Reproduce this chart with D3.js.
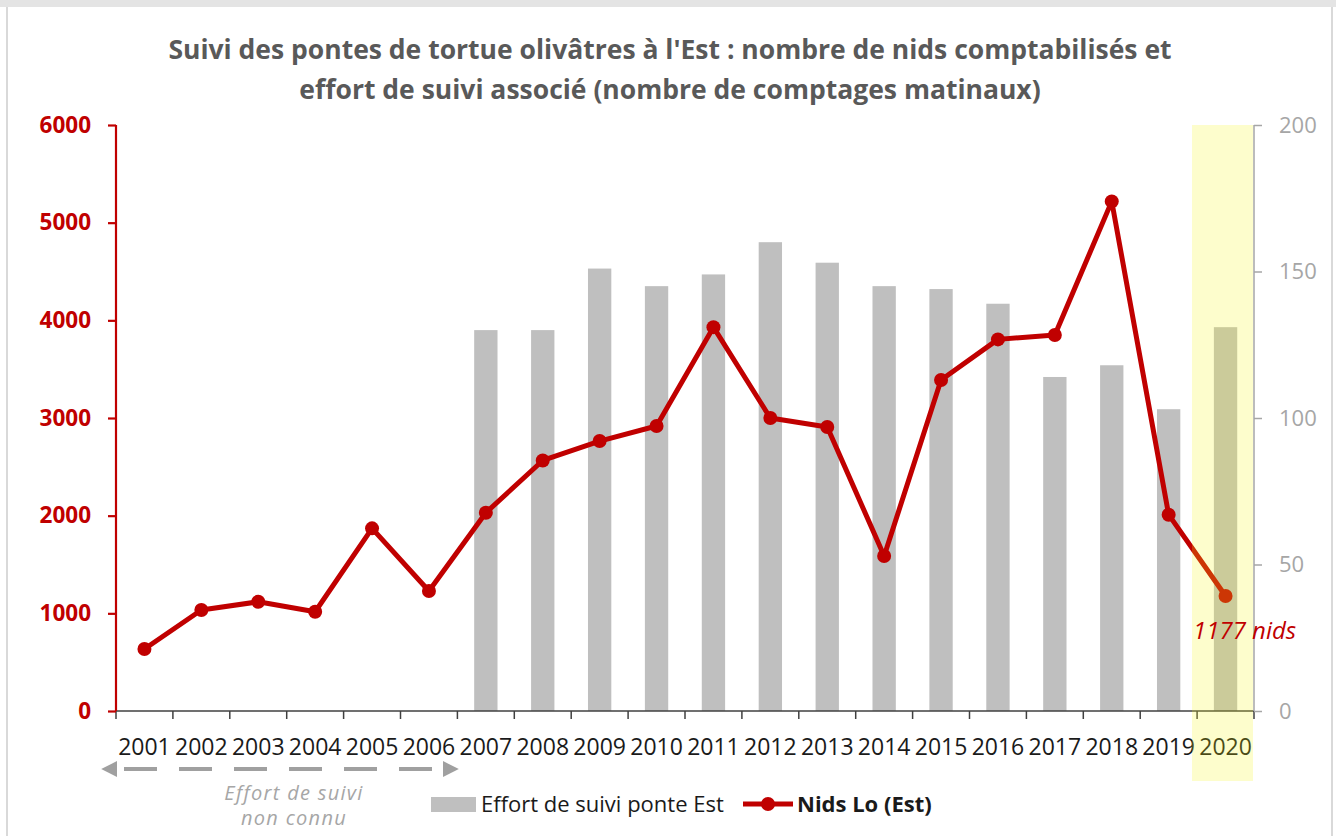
<!DOCTYPE html>
<html>
<head>
<meta charset="utf-8">
<script src="https://cdn.jsdelivr.net/npm/d3@7"></script>
<style>
  body { margin: 0; background: #fff; }
  text { font-family: "Open Sans", "Noto Sans", sans-serif; }
</style>
</head>
<body>
<script>
var width = 1336;
var height = 836;

// data
var years = ['2001','2002','2003','2004','2005','2006','2007','2008','2009','2010',
             '2011','2012','2013','2014','2015','2016','2017','2018','2019','2020'];
var nids = [635, 1034, 1118, 1016, 1870, 1229, 2030, 2565, 2764, 2918,
            3930, 3000, 2908, 1587, 3389, 3805, 3850, 5218, 2010, 1177];
var effort = [null, null, null, null, null, null, 130, 130, 151, 145,
              149, 160, 153, 145, 144, 139, 114, 118, 103, 131];
var leftTicks = [0, 1000, 2000, 3000, 4000, 5000, 6000];
var rightTicks = [0, 50, 100, 150, 200];
var titleLines = ["Suivi des pontes de tortue olivâtres à l'Est : nombre de nids comptabilisés et",
                  "effort de suivi associé (nombre de comptages matinaux)"];

var red = '#c00000';

var svg = d3.select('body')
    .append('svg')
    .attr('width', width)
    .attr('height', height);

// frame like the screenshot
svg.append('rect').attr('x', 0).attr('y', 0).attr('width', width).attr('height', 7).attr('fill', '#e4e4e4');
svg.append('line').attr('x1', 7).attr('x2', 7).attr('y1', 7).attr('y2', height).attr('stroke', '#d9d9d9').attr('stroke-width', 2);
svg.append('line').attr('x1', 1332).attr('x2', 1332).attr('y1', 7).attr('y2', height).attr('stroke', '#d9d9d9').attr('stroke-width', 2);

var xScale = d3.scaleBand().domain(years).range([116, 1254]);
var yLeft = d3.scaleLinear().domain([0, 6000]).range([711, 125]);
var yRight = d3.scaleLinear().domain([0, 200]).range([711, 125]);

// title
svg.selectAll('.title')
    .data(titleLines)
    .enter()
    .append('text')
    .attr('x', 670)
    .attr('y', function (d, i) { return 59 + i * 40; })
    .attr('text-anchor', 'middle')
    .attr('font-size', 26.5)
    .attr('font-weight', 'bold')
    .attr('fill', '#595959')
    .text(function (d) { return d; });

// bars (right axis)
var barW = xScale.bandwidth() * 0.41;
svg.selectAll('rect.bar')
    .data(years.map(function (y, i) { return { year: y, v: effort[i] }; })
        .filter(function (d) { return d.v !== null; }))
    .enter()
    .append('rect')
    .attr('class', 'bar')
    .attr('x', function (d) { return xScale(d.year) + (xScale.bandwidth() - barW) / 2; })
    .attr('y', function (d) { return yRight(d.v); })
    .attr('width', barW)
    .attr('height', function (d) { return yRight(0) - yRight(d.v); })
    .attr('fill', '#bfbfbf');

// x axis
svg.append('line')
    .attr('x1', 116).attr('x2', 1254)
    .attr('y1', 711).attr('y2', 711)
    .attr('stroke', '#404040').attr('stroke-width', 1.5);

svg.selectAll('line.xtick')
    .data(years.concat(['end']))
    .enter()
    .append('line')
    .attr('class', 'xtick')
    .attr('x1', function (d) { return d === 'end' ? 1254 : xScale(d); })
    .attr('x2', function (d) { return d === 'end' ? 1254 : xScale(d); })
    .attr('y1', 711).attr('y2', 719)
    .attr('stroke', '#404040').attr('stroke-width', 1.5);

svg.selectAll('text.xlab')
    .data(years)
    .enter()
    .append('text')
    .attr('class', 'xlab')
    .attr('x', function (d) { return xScale(d) + xScale.bandwidth() / 2; })
    .attr('y', 755)
    .attr('text-anchor', 'middle')
    .attr('font-size', 23)
    .attr('fill', '#1a1a1a')
    .text(function (d) { return d; });

// left axis
var leftAxis = svg.append('g')
    .attr('transform', 'translate(116,0)')
    .call(d3.axisLeft(yLeft).tickValues(leftTicks).tickSize(8).tickPadding(17).tickFormat(d3.format('d')));
leftAxis.select('.domain').attr('stroke', red).attr('stroke-width', 2.2).attr('d', 'M0,125V711');
leftAxis.selectAll('.tick line').attr('stroke', red).attr('stroke-width', 2.2);
leftAxis.selectAll('.tick text')
    .attr('fill', red)
    .attr('font-size', 22.5)
    .attr('font-weight', 'bold')
    .attr('font-family', '"Open Sans", sans-serif');

// right axis
var rightAxis = svg.append('g')
    .attr('transform', 'translate(1254,0)')
    .call(d3.axisRight(yRight).tickValues(rightTicks).tickSize(8).tickPadding(17));
rightAxis.select('.domain').attr('stroke', '#a6a6a6').attr('stroke-width', 1.5).attr('d', 'M0,125V711');
rightAxis.selectAll('.tick line').attr('stroke', '#a6a6a6').attr('stroke-width', 1.5);
rightAxis.selectAll('.tick text')
    .attr('fill', '#a6a6a6')
    .attr('font-size', 22)
    .attr('font-family', '"Open Sans", sans-serif');

// nids line
var cx = function (d, i) { return xScale(years[i]) + xScale.bandwidth() / 2; };
var line = d3.line()
    .x(function (d, i) { return cx(d, i); })
    .y(function (d) { return yLeft(d); });

svg.append('path')
    .datum(nids)
    .attr('d', line)
    .attr('fill', 'none')
    .attr('stroke', red)
    .attr('stroke-width', 5)
    .attr('stroke-linejoin', 'round');

svg.selectAll('circle.pt')
    .data(nids)
    .enter()
    .append('circle')
    .attr('class', 'pt')
    .attr('cx', cx)
    .attr('cy', function (d) { return yLeft(d); })
    .attr('r', 7)
    .attr('fill', red);

// yellow highlight on 2020
svg.append('rect')
    .attr('x', 1192)
    .attr('y', 125)
    .attr('width', 61)
    .attr('height', 656)
    .attr('fill', '#f5f519')
    .attr('opacity', 0.22);

svg.append('text')
    .attr('x', 1193)
    .attr('y', 639)
    .attr('font-size', 24)
    .attr('font-style', 'italic')
    .attr('fill', red)
    .text(nids[nids.length - 1] + ' nids');

// dashed arrow: effort unknown 2001-2006
var defs = svg.append('defs');
defs.append('marker')
    .attr('id', 'arr')
    .attr('viewBox', '0 0 10 10')
    .attr('refX', 2).attr('refY', 5)
    .attr('markerWidth', 4).attr('markerHeight', 4)
    .attr('orient', 'auto-start-reverse')
    .append('path')
    .attr('d', 'M0,0L10,5L0,10Z')
    .attr('fill', '#a0a0a0');

svg.append('line')
    .attr('x1', 114).attr('x2', 446)
    .attr('y1', 769).attr('y2', 769)
    .attr('stroke', '#a0a0a0')
    .attr('stroke-width', 4)
    .attr('stroke-dasharray', '0,10,33,12')
    .attr('marker-start', 'url(#arr)')
    .attr('marker-end', 'url(#arr)');

svg.selectAll('text.note')
    .data(['Effort de suivi', 'non connu'])
    .enter()
    .append('text')
    .attr('x', 294)
    .attr('y', function (d, i) { return 800 + i * 25; })
    .attr('text-anchor', 'middle')
    .attr('font-size', 20)
    .attr('letter-spacing', 1.3)
    .attr('font-style', 'italic')
    .attr('fill', '#a6a6a6')
    .text(function (d) { return d; });

// legend
var legend = svg.append('g');
legend.append('rect')
    .attr('x', 431).attr('y', 797)
    .attr('width', 45).attr('height', 15)
    .attr('fill', '#bfbfbf');
legend.append('text')
    .attr('x', 481).attr('y', 812)
    .attr('font-size', 22)
    .attr('fill', '#1a1a1a')
    .text('Effort de suivi ponte Est');
legend.append('line')
    .attr('x1', 743).attr('x2', 793)
    .attr('y1', 804).attr('y2', 804)
    .attr('stroke', red).attr('stroke-width', 5);
legend.append('circle')
    .attr('cx', 768).attr('cy', 804).attr('r', 7)
    .attr('fill', red);
legend.append('text')
    .attr('x', 797).attr('y', 812)
    .attr('font-size', 22)
    .attr('font-weight', 'bold')
    .attr('fill', '#1a1a1a')
    .text('Nids Lo (Est)');
</script>
</body>
</html>
